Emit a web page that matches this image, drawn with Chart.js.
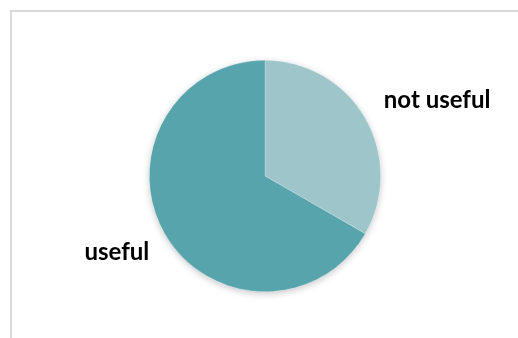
<!DOCTYPE html>
<html>
<head>
<meta charset="utf-8">
<script src="https://cdn.jsdelivr.net/npm/chart.js@4"></script>
<style>
  body { margin: 0; background: #fff; overflow: hidden; }
</style>
</head>
<body>
<canvas id="PieChart" width="518" height="338"></canvas>
<script>
// chart data
const labels = ['not useful', 'useful'];
const shares = [33.3, 66.7];
const colors = ['#9ec5ca', '#58a4ac'];

// label offsets from the slice mid-point on the edge (px)
const labelOffsets = [[72, -18], [-48, 18]];

// light frame, only top and left edges fall inside the picture
const frame = {
  id: 'frame',
  beforeDraw(chart) {
    const ctx = chart.ctx;
    ctx.save();
    ctx.strokeStyle = '#d9d9d9';
    ctx.lineWidth = 2;
    ctx.beginPath();
    ctx.moveTo(11, chart.height);
    ctx.lineTo(11, 11);
    ctx.lineTo(chart.width, 11);
    ctx.stroke();
    ctx.restore();
  }
};

// soft shadow under the pie
const pieShadow = {
  id: 'pieShadow',
  beforeDatasetsDraw(chart) {
    const arc = chart.getDatasetMeta(0).data[0];
    const ctx = chart.ctx;
    ctx.save();
    ctx.shadowColor = 'rgba(0,0,0,0.22)';
    ctx.shadowBlur = 7;
    ctx.shadowOffsetY = 2;
    ctx.fillStyle = '#ffffff';
    ctx.beginPath();
    ctx.arc(arc.x, arc.y, arc.outerRadius, 0, Math.PI * 2);
    ctx.fill();
    ctx.restore();
  }
};

// category names next to the slices
const sliceLabels = {
  id: 'sliceLabels',
  afterDatasetsDraw(chart) {
    const ctx = chart.ctx;
    ctx.save();
    ctx.font = 'bold 24px Lato, "Liberation Sans", sans-serif';
    ctx.fillStyle = '#000';
    ctx.textAlign = 'center';
    ctx.textBaseline = 'middle';
    chart.getDatasetMeta(0).data.forEach((arc, i) => {
      const mid = (arc.startAngle + arc.endAngle) / 2;
      const x = arc.x + Math.cos(mid) * arc.outerRadius + labelOffsets[i][0];
      const y = arc.y + Math.sin(mid) * arc.outerRadius + labelOffsets[i][1];
      ctx.fillText(chart.data.labels[i], x, y);
    });
    ctx.restore();
  }
};

const ctx = document.getElementById('PieChart').getContext('2d');
new Chart(ctx, {
  type: 'pie',
  data: {
    labels: labels,
    datasets: [{
      data: shares,
      backgroundColor: colors,
      borderColor: 'rgba(255,255,255,0.35)',
      borderWidth: 0.6
    }]
  },
  options: {
    responsive: false,
    animation: false,
    layout: { padding: { left: 149, right: 137, top: 60, bottom: 46 } },
    plugins: {
      legend: { display: false },
      tooltip: { enabled: false }
    }
  },
  plugins: [frame, pieShadow, sliceLabels]
});
</script>
</body>
</html>
